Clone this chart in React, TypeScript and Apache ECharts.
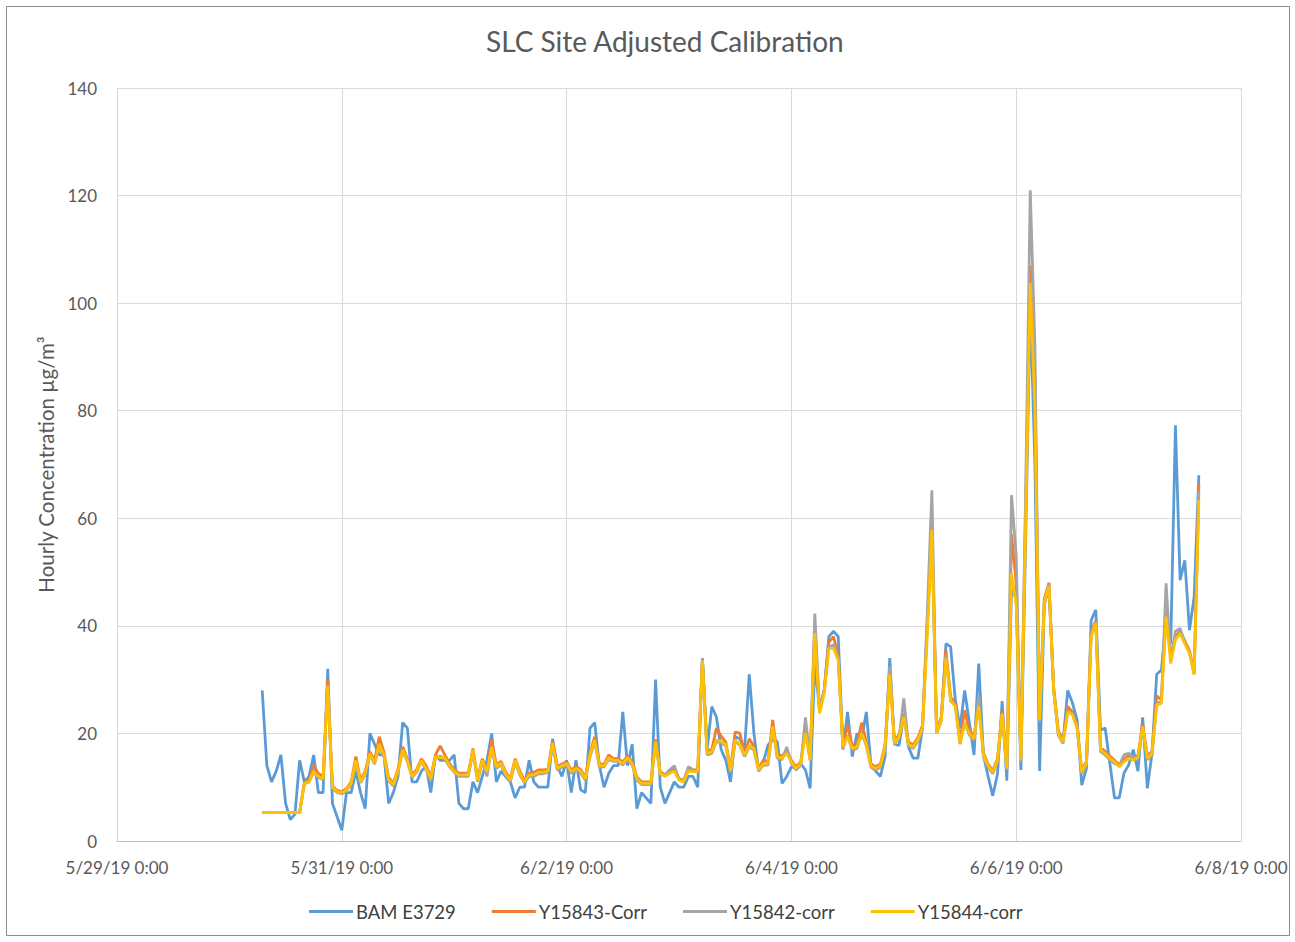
import React, { useEffect, useRef } from "react";
import * as echarts from "echarts";

// Hourly readings, first point at 5/30/19 7:00 (hour 31 counted from 5/29/19 0:00)
const startHour = 31;
const xTickLabels = ["5/29/19 0:00", "5/31/19 0:00", "6/2/19 0:00", "6/4/19 0:00", "6/6/19 0:00", "6/8/19 0:00"];
const seriesNames = ["BAM E3729", "Y15843-Corr", "Y15842-corr", "Y15844-corr"];

const bam = [
  28, 14, 11, 13, 16, 7, 4, 5, 15, 11,
  12, 16, 9, 9, 32, 7, 4.5, 2, 9, 9,
  13, 9, 6, 20, 18, 16, 16, 7, 9, 12,
  22, 21, 11, 11, 13, 14, 9, 16, 15, 15,
  15, 16, 7, 6, 6, 11, 9, 12, 15, 20,
  11, 13, 12, 11, 8, 10, 10, 15, 11, 10,
  10, 10, 19, 14, 12, 15, 9, 15, 9.5, 9,
  21, 22, 14, 10, 12.6, 14, 14, 24, 14, 18,
  6, 9, 8, 7, 30, 10, 7, 9, 11, 10,
  10, 12, 12, 10, 34, 17, 25, 23, 17, 15,
  11, 19.4, 19, 17, 31, 20, 13, 14.7, 17.8, 18.8,
  18.5, 10.7, 12, 13.8, 13.5, 14.4, 13.2, 9.8, 33, 24.5,
  28, 38, 39, 38, 17, 24, 15.7, 20, 19, 24,
  14, 13, 12, 15.7, 34, 18, 17.8, 23.5, 17.5, 15.4,
  15.4, 21, 40, 57, 20, 22.8, 36.7, 36.1, 26.2, 21,
  28, 22, 16, 33, 16, 12, 8.4, 12.4, 26, 11.2,
  47, 45, 13.2, 55, 100, 70, 13, 44, 47, 28,
  20, 18.4, 28, 25.7, 22.5, 10.4, 13.5, 41, 43, 20.6,
  21, 14.4, 8, 8, 12.6, 14.1, 17, 13, 23, 9.8,
  16.3, 31, 31.8, 41, 36.7, 77.3, 48.5, 52.2, 39.2, 45.4,
  68,
];

const y15843 = [
  5.3, 5.3, 5.3, 5.3, 5.3, 5.3, 5.3, 5.3, 5.3, 10.9,
  11.3, 14.1, 12.5, 12, 30, 10.2, 9.4, 9.2, 9.7, 11,
  15.7, 11.3, 13, 16.6, 15, 19.4, 16.5, 11.8, 10.8, 13.4,
  17.5, 15.3, 12.3, 13.3, 15.3, 14, 12, 16, 17.7, 16,
  14.4, 13.3, 12.6, 12.6, 12.6, 17.2, 11.6, 15.3, 13.2, 18.8,
  14.2, 14.8, 12.8, 11.6, 15.3, 13, 11.3, 12.6, 12.8, 13.2,
  13.2, 13.3, 18.6, 13.8, 14.3, 14.7, 13.2, 13.8, 13.3, 11.9,
  16.4, 19.4, 14.3, 14.3, 16, 15.3, 15.3, 14.7, 15.8, 14.7,
  11.9, 11, 11, 11, 18.9, 12.9, 12.3, 12.9, 13.4, 11.6,
  11.3, 13.3, 13.2, 13.2, 33.8, 16.7, 17, 21, 19.5, 18.4,
  13.3, 20.3, 20, 16.3, 19, 17.6, 13.5, 15, 14.8, 22.5,
  16.1, 15.8, 16.7, 15, 13.8, 14.7, 20.8, 15.3, 40, 24.2,
  28, 37, 38, 34.5, 17.9, 21.6, 17.6, 17.9, 22, 18.4,
  14.3, 13.8, 14.3, 17.9, 31.5, 18.6, 19.8, 23.7, 18.4, 17.9,
  19.2, 21.5, 40, 60, 20.4, 23, 35.5, 26.8, 25.5, 18.6,
  24.3, 20.5, 19.5, 25.8, 16.4, 14.3, 13.1, 15.3, 24.2, 13.8,
  57, 48, 15.3, 61, 107, 85, 23, 45, 48, 28.6,
  20.4, 18.8, 25, 24, 21.5, 13.1, 14.8, 38.8, 41, 17.3,
  16.7, 15.8, 15, 14.1, 15.2, 15.8, 15.4, 15.9, 21.8, 15.8,
  16.7, 27, 26.2, 43, 34.3, 38, 39, 37.2, 35.4, 31.4,
  66.5,
];

const y15842 = [
  5.3, 5.3, 5.3, 5.3, 5.3, 5.3, 5.3, 5.3, 5.3, 10.6,
  11, 12.8, 11.8, 11.4, 29, 9.8, 9, 8.8, 9.3, 10.5,
  14.6, 10.8, 12.4, 16, 14.3, 17.6, 15.7, 11.2, 10.2, 12.8,
  16.7, 14.8, 11.8, 12.8, 14.8, 13.2, 11.3, 15.4, 15.8, 15.2,
  13.8, 12.8, 12, 12, 12, 16.5, 11, 14.8, 12, 17.2,
  13.5, 14.2, 12.2, 11, 14.7, 12.3, 10.8, 12, 12, 12.5,
  12.5, 12.8, 17.8, 13.2, 13.7, 14.1, 12.6, 13.2, 12.7, 11.3,
  15.7, 18.5, 13.7, 13.8, 15.2, 14.8, 14.8, 14.1, 15.2, 14.1,
  11.3, 10.5, 10.5, 10.5, 18.2, 12.3, 12.3, 13.2, 14, 11.5,
  11.2, 13.8, 13.2, 13, 34, 16, 16.3, 18.5, 18.2, 17.7,
  12.8, 18.5, 17.8, 15.7, 17.5, 16.9, 13, 14.1, 14.1, 21,
  15.4, 15.1, 17.5, 14.4, 13.2, 14.1, 23, 15, 42.3, 24.5,
  27.8, 36, 36.5, 34, 17.2, 19.6, 16.9, 17.2, 20, 17.7,
  13.7, 13.2, 13.7, 17.2, 32.4, 17.9, 19.1, 26.5, 17.7, 17.2,
  18.5, 21, 42, 65.2, 20, 22.3, 34.5, 26, 25.2, 18,
  22, 19.7, 18.7, 27, 15.7, 13.7, 12.5, 14.7, 23.5, 13.2,
  64.3, 53, 14.8, 64, 121, 92, 22.2, 44.5, 47.8, 28.2,
  19.7, 18.1, 24.2, 23.7, 21, 12.5, 14.2, 38.5, 40.8, 16.6,
  16, 15.1, 14.4, 14, 16, 16.3, 15.5, 15.5, 21, 15.1,
  16, 25.6, 25.9, 47.9, 33.5, 39, 39.5, 37, 35, 31,
  65,
];

const y15844 = [
  5.3, 5.3, 5.3, 5.3, 5.3, 5.3, 5.3, 5.3, 5.3, 10.7,
  11, 12.9, 12, 11.6, 28.7, 10, 9.2, 9, 9.5, 10.7,
  15, 11, 12.6, 16.3, 14.5, 18, 16, 11.5, 10.5, 13,
  17, 15, 12, 13, 15, 13.5, 11.6, 15.7, 15.5, 15.5,
  14, 13, 12.3, 12.3, 12.3, 16.9, 11.3, 15, 12.9, 17.5,
  13.8, 14.5, 12.5, 11.3, 15, 12.6, 11, 12.3, 12.3, 12.8,
  12.8, 13, 18.2, 13.5, 14, 14.4, 12.9, 13.5, 13, 11.6,
  16, 18.8, 14, 14, 15.5, 15, 15, 14.4, 15.5, 14.4,
  11.6, 10.7, 10.7, 10.7, 18.5, 12.6, 12, 12.6, 13, 11.3,
  11, 13, 12.9, 12.9, 33.5, 16.3, 16.6, 18.8, 18.5, 18,
  13, 18.8, 18, 16, 17.8, 17.2, 13.2, 14.4, 14.4, 21.3,
  15.7, 15.4, 16.3, 14.7, 13.5, 14.4, 20, 15, 38.6, 23.7,
  27.4, 35.8, 35.8, 33.6, 17.5, 19.4, 17.2, 17.5, 20, 18,
  14, 13.5, 14, 17.5, 31, 18.2, 19.4, 23.1, 18, 17.5,
  18.8, 21, 38, 57.8, 20, 22.5, 34, 26.2, 25, 18.2,
  21.9, 20, 19, 25, 16, 14, 12.8, 15, 23.7, 13.5,
  49.8, 44, 15, 58, 103.8, 80, 22.5, 44.3, 47.4, 28,
  20, 18.4, 24, 23.5, 21, 12.8, 14.5, 38, 40.5, 16.9,
  16.3, 15.4, 14.7, 13.8, 14.7, 15.4, 15, 15.5, 21.3, 15.4,
  16.3, 25.3, 25.6, 41.7, 33, 37.4, 38.6, 36.7, 34.9, 30.9,
  63.4,
];

const colors = ["#5B9BD5", "#ED7D31", "#A5A5A5", "#FFC000"];
const FONT = "Lato, 'Open Sans', sans-serif";

function toPairs(values: number[]) {
  return values.map((v, i) => [startHour + i, v]);
}

export default function App() {
  const ref = useRef<HTMLDivElement>(null);
  useEffect(() => {
    if (!ref.current) return;
    const chart = echarts.init(ref.current, null, { renderer: "svg" });
    const all = [bam, y15843, y15842, y15844];
    chart.setOption({
      animation: false,
      backgroundColor: "#ffffff",
      textStyle: { fontFamily: FONT },
      title: {
        text: "SLC Site Adjusted Calibration",
        left: 481,
        top: 22,
        textStyle: { fontFamily: FONT, fontSize: 28, fontWeight: "normal", color: "#595959" },
      },
      graphic: [
        {
          type: "rect",
          shape: { x: 6.5, y: 6.5, width: 1283, height: 929 },
          style: { fill: "none", stroke: "#8c8c8c", lineWidth: 1 },
          silent: true,
        },
      ],
      legend: {
        top: 897,
        left: 304,
        icon: "rect",
        itemWidth: 44,
        itemHeight: 3,
        itemGap: 36,
        data: seriesNames,
        textStyle: { fontFamily: FONT, fontSize: 18.5, color: "#404040", padding: [0, 0, 0, -2] },
      },
      grid: { left: 117, right: 54, top: 88, bottom: 101, containLabel: false },
      xAxis: {
        type: "value",
        min: 0,
        max: 240,
        interval: 48,
        axisLine: { show: true, lineStyle: { color: "#bfbfbf", width: 1 } },
        axisTick: { show: false },
        splitLine: { show: true, lineStyle: { color: "#d9d9d9", width: 1 } },
        axisLabel: {
          margin: 18,
          fontSize: 17,
          color: "#595959",
          fontFamily: FONT,
          formatter: (v: number) => xTickLabels[Math.round(v / 48)] ?? "",
        },
      },
      yAxis: {
        type: "value",
        min: 0,
        max: 140,
        interval: 20,
        name: "Hourly Concentration µg/m³",
        nameLocation: "middle",
        nameGap: 60,
        nameTextStyle: { fontFamily: FONT, fontSize: 20.5, color: "#595959" },
        axisLine: { show: false },
        axisTick: { show: false },
        splitLine: { show: true, lineStyle: { color: "#d9d9d9", width: 1 } },
        axisLabel: { margin: 20, fontSize: 17, color: "#595959", fontFamily: FONT },
      },
      series: all.map((vals, i) => ({
        name: seriesNames[i],
        type: "line",
        data: toPairs(vals),
        symbol: "none",
        showSymbol: false,
        color: colors[i],
        lineStyle: { color: colors[i], width: 2.8 },
        z: 2 + i,
      })),
    });
    return () => chart.dispose();
  }, []);
  return (
    <div
      ref={ref}
      style={{ position: "fixed", left: 0, top: 0, width: 1295, height: 942, background: "#fff" }}
    />
  );
}
